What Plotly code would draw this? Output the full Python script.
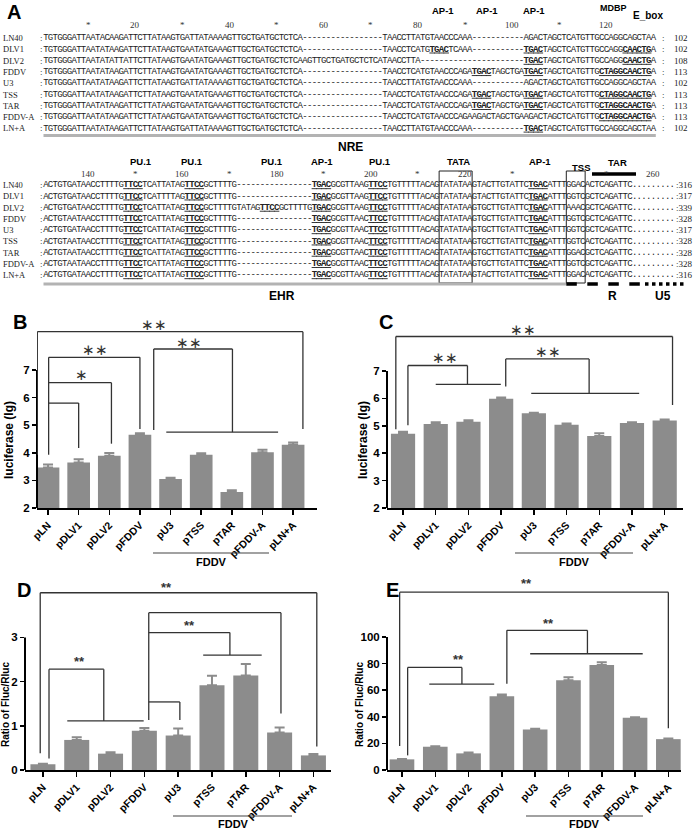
import plotly.graph_objects as go

W, H = 696, 831
def X(p): return p / W
def Y(p): return 1 - p / H

# ---------------- data ----------------
categories = ["pLN", "pDLV1", "pDLV2", "pFDDV", "pU3", "pTSS", "pTAR", "pFDDV-A", "pLN+A"]
luc_b = [3.47, 3.65, 3.89, 4.65, 3.05, 3.93, 2.58, 4.02, 4.29]
luc_b_err = [0.11, 0.12, 0.10, 0.06, 0.05, 0.05, 0.06, 0.09, 0.08]
luc_c = [4.71, 5.07, 5.15, 5.99, 5.46, 5.04, 4.63, 5.10, 5.19]
luc_c_err = [0.07, 0.06, 0.05, 0.04, 0.02, 0.04, 0.10, 0.03, 0.04]
ratio_d = [0.13, 0.68, 0.37, 0.89, 0.78, 1.92, 2.14, 0.85, 0.33]
ratio_d_err = [0.01, 0.06, 0.03, 0.06, 0.16, 0.21, 0.26, 0.11, 0.03]
ratio_e = [8.0, 17.5, 12.5, 55.5, 30.5, 67.5, 79.0, 39.3, 23.2]
ratio_e_err = [0.3, 0.4, 0.6, 1.2, 0.6, 2.2, 2.0, 0.4, 0.4]

ticks_bc = [2, 3, 4, 5, 6, 7]
ticks_d = [0, 1, 2, 3]
ticks_e = [0, 20, 40, 60, 80, 100]

seq_names = ["LN40", "DLV1", "DLV2", "FDDV", "U3", "TSS", "TAR", "FDDV-A", "LN+A"]
P1_LN = "TGTGGGATTAATACAAGATTCTTATAAGTGATTATAAAAGTTGCTGATGCTCTCA"
P1_D = "TGTGGGATTAATATAAGATTCTTATAAGTGAATATGAAAGTTGCTGATGCTCTCA"
P1_U = "TGTGGGATTAATATAAGATTCTTATAAGTGATTATAAAAGTTGCTGATGCTCTCA"
P1_DLV2 = "TGTGGGATTAATATATTATTCTTATAAGTGAATATGAAAGTTGCTGATGCTCTCAAGTTGCTGATGCTCTCATAACCTTA"
F_PART = "TAACCTCATGTAACCCAGA[TGAC]TAGCTGA[TGAC]TAGCTCATGTTG[CTAGGCAACTG]A"
block1_seqs = [
    P1_LN + "-" * 17 + "TAACCTTATGTAACCCAAA" + "-" * 11 + "AGACTAGCTCATGTTGCCAGGCAGCTAA",
    P1_D + "-" * 17 + "TAACCTCATG[TGAC]TCAAA" + "-" * 11 + "[TGAC]TAGCTCATGTTGCCAGG[CAACTG]A",
    P1_DLV2 + "-" * 22 + "[TGAC]TAGCTCATGTTGCCAGG[CAACTG]A",
    P1_D + "-" * 17 + F_PART,
    P1_U + "-" * 17 + "TAACCTTATGTAACCCAAA" + "-" * 11 + "AGACTAGCTCATGTTGCCAGGCAGCTAA",
    P1_D + "-" * 17 + F_PART,
    P1_D + "-" * 17 + F_PART,
    P1_D + "-" * 17 + "TAACCTCATGTAACCCAGAAGACTAGCTGAAGACTAGCTCATGTTG[CTAGGCAACTG]A",
    P1_U + "-" * 17 + "TAACCTTATGTAACCCAAA" + "-" * 11 + "[TGAC]TAGCTCATGTTGCCAGGCAGCTAA",
]
block1_counts = ["102", "102", "108", "113", "102", "113", "113", "113", "102"]

def b2(start, mid, gap, g, mid2, x4, y):
    return (start + "[TTCC]" + mid + "[TTCC]GCTTTTG" + gap + "[TGAC]GCGTTAA" + g +
            "[TTCC]TGTTTTTACAG" + "TATATAA" + mid2 + "[TGAC]ATTT" + x4 + y + "CTCAGATTC")

SG, SA = "ACTGTGATAACCTTTTG", "ACTGTAATAACCTTTTG"
GAP = "-" * 16
GAP2 = "TATAG[TTCC]GCTTTTG"
block2_seqs = [
    b2(SG, "TCATTATAG", GAP, "G", "GTACTTGTATTC", "GGAC", "A"),
    b2(SG, "TCATTTTAG", GAP, "G", "GTACTTGTATTC", "GGTC", "G"),
    b2(SG, "TCATTATAG", GAP2, "G", "GTGCTTGTATTC", "AAAC", "G"),
    b2(SA, "TCATTATAG", GAP, "C", "GTGCTTGTATTC", "GGTC", "G"),
    b2(SG, "TCATTATAG", GAP, "C", "GTGCTTGTATTC", "GGTC", "G"),
    b2(SA, "TCATTATAG", GAP, "C", "GTGCTTGTATTC", "GGTC", "A"),
    b2(SA, "TCATTATAG", GAP, "C", "GTGCTTGTATTC", "GGAC", "G"),
    b2(SA, "TCATTATAG", GAP, "C", "GTGCTTGTATTC", "GGTC", "G"),
    b2(SG, "TCATTATAG", GAP, "G", "GTACTTGTATTC", "GGAC", "A"),
]
block2_counts = ["316", "317", "339", "328", "317", "328", "328", "328", "316"]

# ---------------- figure ----------------
fig = go.Figure()
ann, shapes = [], []
MONO = "Liberation Mono"
SERIF = "Liberation Serif"
SANS = "Liberation Sans, Arial"
CW = 4.71          # alignment column width in px
SX = 43.5          # sequence start x

def txt(x, y, s, size=10, family=SANS, bold=False, xa="center", ya="middle", angle=0, color="black"):
    ann.append(dict(x=X(x), y=Y(y), xref="paper", yref="paper", text=s, showarrow=False,
                    xanchor=xa, yanchor=ya, textangle=angle,
                    font=dict(family=family, size=size, color=color, weight="bold" if bold else "normal")))

def pline(x0, y0, x1, y1, color="black", width=1, dash="solid"):
    shapes.append(dict(type="line", xref="paper", yref="paper", x0=X(x0), y0=Y(y0), x1=X(x1), y1=Y(y1),
                       line=dict(color=color, width=width, dash=dash)))

def colx(c):  # centre of alignment column c (1-based)
    return SX + (c - 0.5) * CW

def parse(s):
    out, m = [], False
    for ch in s:
        if ch == "[":
            m = True
        elif ch == "]":
            m = False
        else:
            out.append((ch, m))
    return out

cx, cy, ct = [], [], []
def add_row(s, yy):
    for j, (ch, m) in enumerate(parse(s)):
        cx.append(colx(j + 1)); cy.append(yy)
        ct.append("<b><u>%s</u></b>" % ch if m else ch)

# panel A
txt(14, 12, "A", size=20, bold=True)
for lab, xx in [("AP-1", 443), ("AP-1", 487), ("AP-1", 534)]:
    txt(xx, 10, lab, size=9.5, bold=True)
txt(613, 8, "MDBP", size=9, bold=True)
txt(648, 15, "E_box", size=10, bold=True)
for c in range(10, 121, 10):
    txt(colx(c), 25, "*" if c % 20 else str(c), size=9, family=SERIF, color="#333")
y0, dy = 38, 11.3
for i, (nm, s, n) in enumerate(zip(seq_names, block1_seqs, block1_counts)):
    yy = y0 + dy * i
    txt(1, yy, nm, size=8.5, family=SERIF, xa="left", color="#222")
    txt(37.5, yy, ":", size=9, family=SERIF, xa="left", color="#222")
    add_row(s, yy)
    txt(663, yy, ":", size=9, family=SERIF, color="#222")
    txt(690, yy, n, size=9, family=SERIF, xa="right", color="#222")
pline(SX, 135.5, SX + 130 * CW, 135.5, color="#b3b3b3", width=3)
txt(350, 147, "NRE", size=12, bold=True)

# block 2
for lab, xx in [("PU.1", 141), ("PU.1", 192), ("PU.1", 272), ("AP-1", 322), ("PU.1", 380),
                ("TATA", 458), ("AP-1", 540)]:
    txt(xx, 161, lab, size=9.5, bold=True)
txt(581, 167, "TSS", size=9.5, bold=True)
txt(617, 163, "TAR", size=9.5, bold=True)
for c in [140, 150, 160, 170, 180, 190, 200, 210, 220, 230, 250, 260]:
    txt(colx(c - 130), 174, "*" if c % 20 else str(c), size=9, family=SERIF, color="#333")
pline(592, 174, 636, 174, color="black", width=3.5)
y0b, dyb = 185, 11.25
for i, (nm, s, n) in enumerate(zip(seq_names, block2_seqs, block2_counts)):
    yy = y0b + dyb * i
    txt(1, yy, nm, size=8.5, family=SERIF, xa="left", color="#222")
    txt(37.5, yy, ":", size=9, family=SERIF, xa="left", color="#222")
    add_row(s + ".........", yy)
    txt(695, yy, ":" + n, size=9, family=SERIF, xa="right", color="#222")
for c0, c1 in [(85, 91), (112, 115)]:
    shapes.append(dict(type="rect", xref="paper", yref="paper",
                       x0=X(SX + (c0 - 1) * CW), x1=X(SX + c1 * CW), y0=Y(283), y1=Y(171),
                       line=dict(color="#222", width=1)))
pline(SX, 284, SX + 111 * CW, 284, color="#b3b3b3", width=3)
pline(SX + 111 * CW, 284, 641, 284, color="black", width=3.5, dash="dash")
pline(645, 284, 685, 284, color="black", width=3.5, dash="dot")
txt(282, 296, "EHR", size=12, bold=True)
txt(612, 296, "R", size=12, bold=True)
txt(663, 296, "U5", size=12, bold=True)

fig.add_trace(go.Scatter(x=cx, y=cy, text=ct, mode="text", xaxis="x5", yaxis="y5",
                         textposition="middle center", cliponaxis=False, hoverinfo="skip",
                         textfont=dict(family=MONO, size=9, color="#222"), showlegend=False))

# ---------------- bar panels ----------------
panels = [
    dict(v=luc_b, e=luc_b_err, xd=(37, 317), yd=(320, 508), yr=(2, 2 + 188 / 27.6), xr=(-0.36, 8.78),
         tv=ticks_bc, letter=("B", 20, 322), title="luciferase (lg)", tpos=(9, 440), tsize=12),
    dict(v=luc_c, e=luc_c_err, xd=(387, 683), yd=(320, 508), yr=(2, 2 + 188 / 27.4), xr=(-0.49, 8.56),
         tv=ticks_bc, letter=("C", 386, 322), title="luciferase (lg)", tpos=(363, 440), tsize=12),
    dict(v=ratio_d, e=ratio_d_err, xd=(25, 331), yd=(582, 770), yr=(0, 188 / 44.2), xr=(-0.53, 8.52),
         tv=ticks_d, letter=("D", 24, 590), title="Ratio of Fluc/Rluc", tpos=(5, 705), tsize=10),
    dict(v=ratio_e, e=ratio_e_err, xd=(387, 681), yd=(578, 770), yr=(0, 192 / 1.33), xr=(-0.45, 8.38),
         tv=ticks_e, letter=("E", 392, 590), title="Ratio of Fluc/Rluc", tpos=(359, 705), tsize=10),
]
BAR = "#8c8c8c"
layout_axes = {}
for i, p in enumerate(panels):
    n = "" if i == 0 else str(i + 1)
    xa, ya = "x" + n, "y" + n
    fig.add_trace(go.Bar(x=categories, y=p["v"], xaxis=xa, yaxis=ya, width=0.74,
                         marker=dict(color=BAR, line=dict(width=0)),
                         error_y=dict(type="data", symmetric=False, array=p["e"], arrayminus=[0] * 9,
                                      color=BAR, thickness=2, width=5),
                         showlegend=False))
    layout_axes["xaxis" + n] = dict(domain=[X(p["xd"][0]), X(p["xd"][1])], range=list(p["xr"]),
                                    type="category", anchor=ya, showline=True, linecolor="black",
                                    linewidth=2, ticks="outside", ticklen=5, tickwidth=1.5,
                                    tickcolor="black", tickangle=-45, showgrid=False, zeroline=False,
                                    tickfont=dict(family=SANS, size=10.5, color="black", weight="bold"))
    layout_axes["yaxis" + n] = dict(domain=[Y(p["yd"][1]), Y(p["yd"][0])], range=list(p["yr"]),
                                    anchor=xa, showline=False, ticks="outside", ticklen=4, tickwidth=1.5,
                                    tickcolor="black", tickvals=p["tv"], showgrid=False, zeroline=False,
                                    tickfont=dict(family=SANS, size=11.5, color="black", weight="bold"))
    shapes.append(dict(type="line", xref=xa + " domain", yref=ya, x0=0, x1=0,
                       y0=p["tv"][0], y1=p["tv"][-1], line=dict(color="black", width=2)))
    L, lx, ly = p["letter"]
    txt(lx, ly, L, size=20, bold=True)
    txt(p["tpos"][0], p["tpos"][1], p["title"], size=p["tsize"], bold=True, angle=-90)

layout_axes["xaxis5"] = dict(domain=[0, 1], range=[0, W], visible=False, anchor="y5", fixedrange=True)
layout_axes["yaxis5"] = dict(domain=[0, 1], range=[H, 0], visible=False, anchor="x5", fixedrange=True)

def seg(k, x0, y0, x1, y1):
    n = "" if k == 0 else str(k + 1)
    shapes.append(dict(type="line", xref="x" + n, yref="y" + n, x0=x0, x1=x1, y0=y0, y1=y1,
                       line=dict(color="#333", width=1.3)))

def star(k, x, y, s="**", serif=True):
    n = "" if k == 0 else str(k + 1)
    ann.append(dict(x=x, y=y, xref="x" + n, yref="y" + n, text=s, showarrow=False,
                    font=dict(family=SERIF if serif else SANS, size=15 if serif else 13,
                              color="#333", weight="normal" if serif else "bold")))

# B brackets
seg(0, -0.35, 8.39, 8.32, 8.39); seg(0, -0.35, 3.93, -0.35, 8.39); seg(0, 8.32, 4.86, 8.32, 8.39)
star(0, 3.45, 8.63, "∗∗")
seg(0, 0.02, 3.93, 0.02, 7.46)
seg(0, 0.02, 7.46, 3.0, 7.46); seg(0, 3.0, 4.86, 3.0, 7.46); star(0, 1.52, 7.72, "∗∗")
seg(0, 0.02, 6.54, 2.07, 6.54); seg(0, 2.07, 4.33, 2.07, 6.54); star(0, 1.09, 6.82, "∗")
seg(0, 0.02, 5.80, 1.0, 5.80); seg(0, 1.0, 4.17, 1.0, 5.80)
seg(0, 3.45, 7.76, 6.02, 7.76); seg(0, 3.45, 4.83, 3.45, 7.76); seg(0, 6.02, 4.75, 6.02, 7.76)
seg(0, 3.86, 4.75, 7.51, 4.75); star(0, 4.6, 7.99, "∗∗")
# C brackets
seg(1, -0.22, 8.26, 8.24, 8.26); seg(1, -0.22, 4.87, -0.22, 8.26); seg(1, 8.24, 5.76, 8.24, 8.26)
star(1, 3.67, 8.5, "∗∗")
seg(1, 0.15, 7.2, 1.97, 7.2); seg(1, 0.15, 5.02, 0.15, 7.2); seg(1, 1.97, 6.51, 1.97, 7.2)
seg(1, 1.0, 6.51, 2.99, 6.51); star(1, 1.27, 7.46, "∗∗")
seg(1, 3.14, 7.44, 5.69, 7.44); seg(1, 3.14, 6.43, 3.14, 7.44); seg(1, 5.69, 6.18, 5.69, 7.44)
seg(1, 3.92, 6.18, 7.22, 6.18); star(1, 4.43, 7.71, "∗∗")
# D brackets
seg(2, -0.08, 4.01, 8.1, 4.01); seg(2, -0.08, 0.38, -0.08, 4.01); seg(2, 8.1, 0.53, 8.1, 4.01)
star(2, 3.65, 4.14, "**", serif=False)
seg(2, 0.18, 2.28, 1.8, 2.28); seg(2, 0.18, 0.26, 0.18, 2.28); seg(2, 1.8, 1.11, 1.8, 2.28)
seg(2, 0.72, 1.11, 2.98, 1.11); star(2, 1.09, 2.45, "**", serif=False)
seg(2, 3.13, 1.13, 3.13, 3.56); seg(2, 3.13, 3.56, 7.04, 3.56); seg(2, 7.04, 1.28, 7.04, 3.56)
seg(2, 3.13, 3.11, 5.53, 3.11); seg(2, 5.53, 2.6, 5.53, 3.11); seg(2, 4.74, 2.6, 6.47, 2.6)
star(2, 4.34, 3.26, "**", serif=False)
seg(2, 3.13, 1.54, 4.05, 1.54); seg(2, 4.05, 1.13, 4.05, 1.54)
# E brackets
seg(3, -0.07, 133.7, 8.0, 133.7); seg(3, -0.07, 18, -0.07, 133.7); seg(3, 8.0, 31.4, 8.0, 133.7)
star(3, 3.75, 140, "**", serif=False)
seg(3, 0.17, 77.1, 1.8, 77.1); seg(3, 0.17, 11, 0.17, 77.1); seg(3, 1.8, 64.6, 1.8, 77.1)
seg(3, 0.82, 64.6, 2.77, 64.6); star(3, 1.7, 82.9, "**", serif=False)
seg(3, 3.15, 105, 5.57, 105); seg(3, 3.15, 64.8, 3.15, 105); seg(3, 5.57, 87.4, 5.57, 105)
seg(3, 3.85, 87.4, 7.23, 87.4); star(3, 4.4, 110.5, "**", serif=False)

# FDDV group labels
for (xa0, xa1, yl, xt, yt) in [(153, 269, 553, 211, 562), (515, 633, 553, 574, 562),
                               (173, 292, 816, 233, 824), (526, 643, 816, 584, 824)]:
    pline(xa0, yl, xa1, yl, color="#444", width=1.2)
    txt(xt, yt, "FDDV", size=11, bold=True)

fig.update_layout(width=W, height=H, margin=dict(l=0, r=0, t=0, b=0), autosize=False,
                  template="none", paper_bgcolor="white", plot_bgcolor="rgba(0,0,0,0)",
                  bargap=0.26, showlegend=False, annotations=ann, shapes=shapes, **layout_axes)
fig.write_html("out.html", config={"displayModeBar": False, "staticPlot": True},
               post_script="document.body.style.margin='0';document.body.style.overflow='hidden';")
